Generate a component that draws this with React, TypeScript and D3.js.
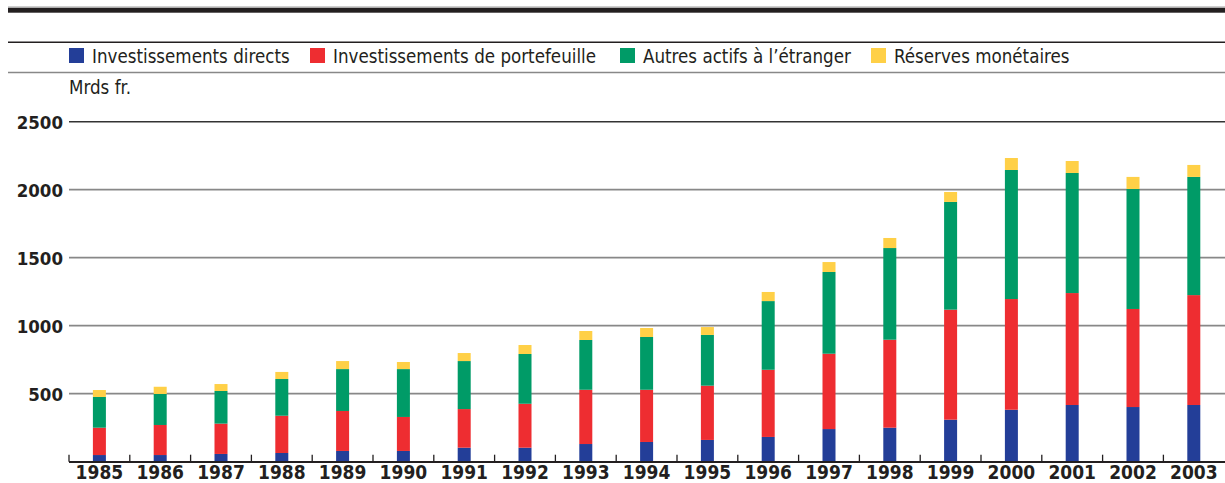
import React from "react";
import * as d3 from "d3";

const years = ["1985","1986","1987","1988","1989","1990","1991","1992","1993","1994","1995","1996","1997","1998","1999","2000","2001","2002","2003"];
const directs = [49, 49, 57, 64, 79, 79, 103, 103, 130, 145, 160, 182, 240, 250, 309, 382, 417, 402, 417];
const portefeuille = [201, 221, 223, 274, 294, 250, 284, 323, 399, 384, 399, 494, 554, 647, 809, 814, 823, 721, 808];
const autres = [226, 228, 240, 270, 308, 352, 353, 366, 366, 388, 373, 505, 601, 674, 792, 949, 883, 882, 869];
const reserves = [51, 53, 51, 52, 59, 52, 59, 66, 66, 66, 58, 67, 73, 74, 73, 88, 88, 89, 88];
const seriesNames = ["Investissements directs", "Investissements de portefeuille", "Autres actifs à l’étranger", "Réserves monétaires"];
const seriesColors = ["#233e98", "#ee2d31", "#009b67", "#ffd047"];
const yTicks = [500, 1000, 1500, 2000, 2500];
const unitLabel = "Mrds fr.";

const W = 1225, H = 483;
const plotLeft = 69, plotRight = 1225, y0 = 461.7, yTop = 121.7;
const font = "'DejaVu Sans Condensed', 'Liberation Sans Narrow', sans-serif";
const textColor = "#231f20";

export default function App() {
  const x = d3.scaleBand<string>().domain(years).range([plotLeft, plotLeft + 19 * 60.8]).paddingInner(0).paddingOuter(0);
  const y = d3.scaleLinear().domain([0, 2500]).range([y0, yTop]);
  const rows = years.map((yr, i) => ({ year: yr, s0: directs[i], s1: portefeuille[i], s2: autres[i], s3: reserves[i] }));
  const stack = d3.stack<any>().keys(["s0", "s1", "s2", "s3"]);
  const layers = stack(rows);
  const barW = 13;
  const legendX = [69, 310, 620, 871];

  return (
    <svg width={W} height={H} style={{ position: "absolute", left: 0, top: 0, background: "#fff" }}>
      <rect x={0} y={0} width={W} height={H} fill="#fff" />
      <line x1={8} x2={W} y1={6.8} y2={6.8} stroke="#bbb" strokeWidth={1} />
      <rect x={8} y={7.7} width={W - 8} height={5} fill={textColor} />
      <line x1={8} x2={W} y1={42.3} y2={42.3} stroke={textColor} strokeWidth={1.4} />
      <line x1={8} x2={W} y1={72.5} y2={72.5} stroke="#888" strokeWidth={1.6} />
      {seriesNames.map((n, i) => (
        <g key={n}>
          <rect x={legendX[i]} y={48} width={15} height={15} fill={seriesColors[i]} />
          <text x={legendX[i] + 23} y={63} fontFamily={font} fontSize={18.6} fill={textColor}>{n}</text>
        </g>
      ))}
      <text x={69} y={94} fontFamily={font} fontSize={18.6} fill={textColor}>{unitLabel}</text>
      {yTicks.map((t) => (
        <g key={t}>
          <line x1={plotLeft} x2={plotRight} y1={y(t)} y2={y(t)} stroke={t === 2500 ? "#333" : "#888"} strokeWidth={t === 2500 ? 1.4 : 1.8} />
          <text x={63} y={y(t) + 7} textAnchor="end" fontFamily={font} fontWeight="bold" fontSize={18.5} fill={textColor}>{t}</text>
        </g>
      ))}
      {layers.map((layer, li) => (
        <g key={li} fill={seriesColors[li]}>
          {layer.map((d: any, i: number) => (
            <rect key={i} x={(x(years[i]) as number) + x.bandwidth() / 2 - barW / 2} y={y(d[1])} width={barW} height={y(d[0]) - y(d[1])} />
          ))}
        </g>
      ))}
      <line x1={plotLeft} x2={plotRight} y1={y0 + 0.3} y2={y0 + 0.3} stroke={textColor} strokeWidth={2} />
      {years.map((yr) => (
        <line key={"t" + yr} x1={(x(yr) as number)} x2={(x(yr) as number)} y1={y0 - 7} y2={y0} stroke={textColor} strokeWidth={1.3} />
      ))}
      {years.map((yr) => (
        <text key={yr} x={(x(yr) as number) + x.bandwidth() / 2} y={478.5} textAnchor="middle" fontFamily={font} fontWeight="bold" fontSize={19} fill={textColor}>{yr}</text>
      ))}
    </svg>
  );
}
